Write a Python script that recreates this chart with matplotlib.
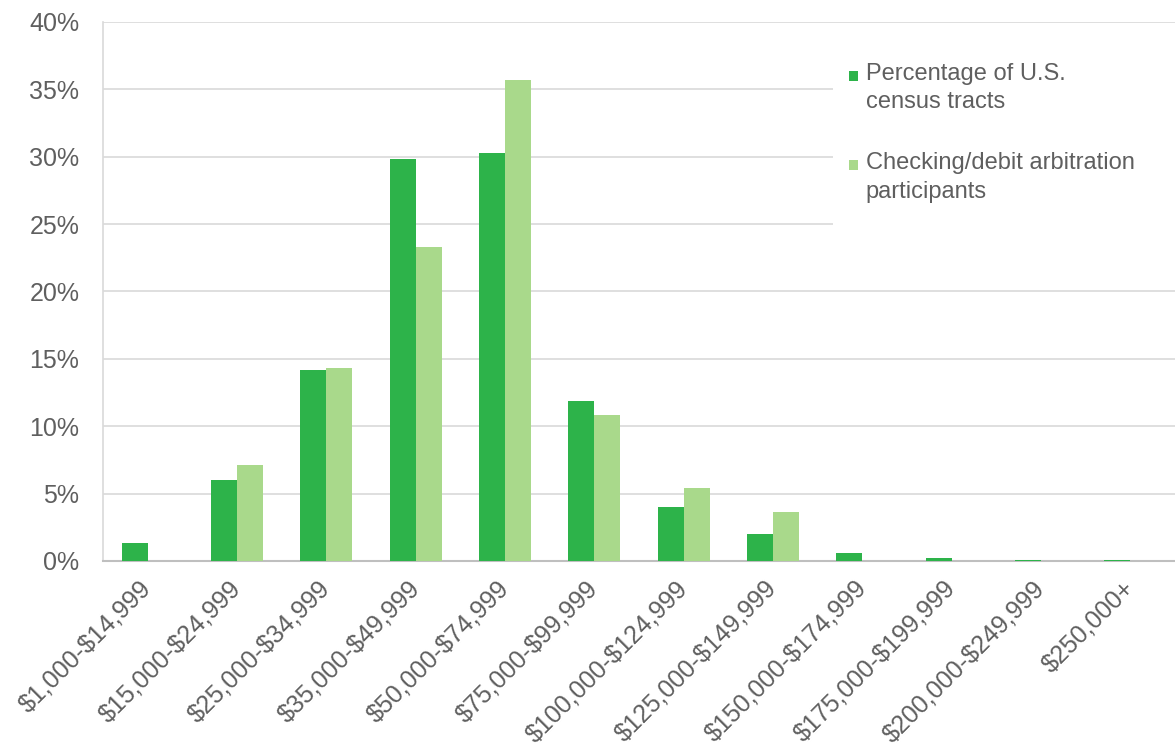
import matplotlib.pyplot as plt
from matplotlib.patches import Rectangle
import numpy as np

# data
categories = ['$1,000-$14,999', '$15,000-$24,999', '$25,000-$34,999', '$35,000-$49,999',
              '$50,000-$74,999', '$75,000-$99,999', '$100,000-$124,999', '$125,000-$149,999',
              '$150,000-$174,999', '$175,000-$199,999', '$200,000-$249,999', '$250,000+']
census_tracts = [1.3, 6.0, 14.2, 29.8, 30.3, 11.9, 4.0, 2.0, 0.6, 0.25, 0.1, 0.1]
arbitration = [0.0, 7.1, 14.3, 23.3, 35.7, 10.8, 5.4, 3.6, 0.0, 0.0, 0.0, 0.0]
yticks = [0, 5, 10, 15, 20, 25, 30, 35, 40]
series_names = ['Percentage of U.S.\ncensus tracts', 'Checking/debit arbitration\nparticipants']
colors = ['#2db34a', '#a9d98b']

plt.rcParams['font.family'] = ['Liberation Sans', 'DejaVu Sans']
plt.rcParams['text.parse_math'] = False
TXT = '#5f5f5f'

fig = plt.figure(figsize=(11.75, 7.53), dpi=100)
ax = fig.add_axes([0.0877, 0.255, 0.9123, 0.7158])

x = np.arange(len(categories))
w = 0.29
ax.bar(x - w/2, census_tracts, w, color=colors[0], zorder=3)
ax.bar(x + w/2, arbitration, w, color=colors[1], zorder=3)

ax.set_xlim(-0.5, len(categories) - 0.5)
ax.set_ylim(0, 40)
ax.set_yticks(yticks)
ax.set_yticklabels([f'{t}%' for t in yticks])
ax.yaxis.grid(True, color='#d9d9d9', linewidth=1.2, zorder=0)
ax.set_axisbelow(True)

ax.set_xticks(x)
ax.set_xticklabels(categories, rotation=45, ha='right', va='center', rotation_mode='anchor')
ax.tick_params(axis='x', length=0, pad=17, labelsize=18, labelcolor=TXT)
ax.tick_params(axis='y', length=0, pad=17, labelsize=18, labelcolor=TXT)

for s in ['top', 'right']:
    ax.spines[s].set_visible(False)
ax.spines['left'].set_color('#d9d9d9')
ax.spines['left'].set_linewidth(1.2)
ax.spines['bottom'].set_color('#bfbfbf')
ax.spines['bottom'].set_linewidth(1.5)

# legend, drawn by hand so the marker sits on the first text line
ax.add_patch(Rectangle((0.681, 0.605), 0.33, 0.36, transform=ax.transAxes,
                       facecolor='white', edgecolor='none', zorder=2.5, clip_on=False))
for name, col, ycen in zip(series_names, colors, [0.900, 0.734]):
    ax.add_patch(Rectangle((0.6955, ycen - 0.0095), 0.0085, 0.019, transform=ax.transAxes,
                           facecolor=col, edgecolor='none', zorder=4))
    ax.text(0.7115, ycen + 0.024, name, transform=ax.transAxes, ha='left', va='top',
            fontsize=17, color=TXT, linespacing=1.38, zorder=4)

fig.savefig('out.png', dpi=100)
